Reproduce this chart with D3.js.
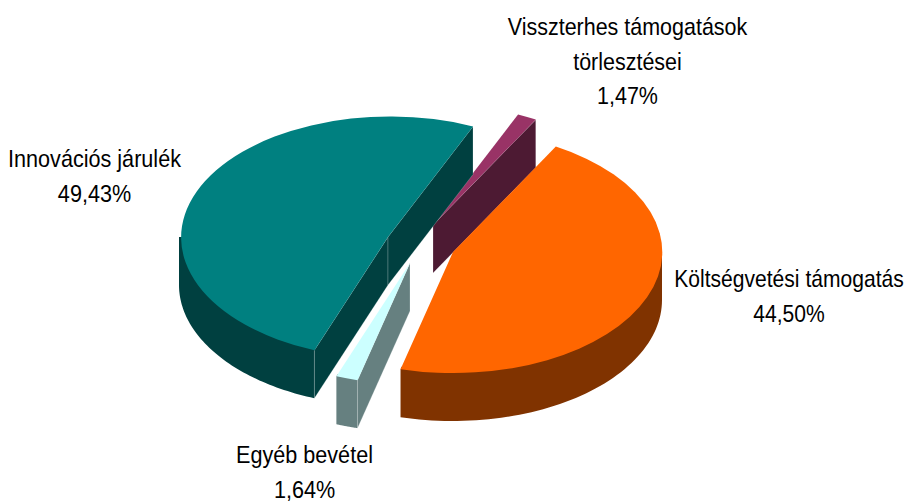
<!DOCTYPE html>
<html><head><meta charset="utf-8">
<script src="https://cdn.jsdelivr.net/npm/d3@7"></script>
<style>html,body{margin:0;padding:0;background:#fff}svg{display:block}
text{font-family:"Liberation Sans",Arial,sans-serif;font-size:24px;fill:#000;text-anchor:middle}</style>
</head><body><svg id="c" width="904" height="503"></svg>
<script>
const categories = ["Visszterhes támogatások törlesztései","Költségvetési támogatás","Egyéb bevétel","Innovációs járulék"];
const values = [1.47,44.50,1.64,49.43];
const valueLabels = ["1,47%","44,50%","1,64%","49,43%"];

const topColors = ["#993366","#FF6600","#CCFFFF","#008080"];
const sideColors = ["#4D1A33","#803300","#668080","#004040"];
const centers = [[433,225],[453,252],[410,263],[388,237]];
const paintOrder = [0,3,2,1];
const labelLines = [["Visszterhes támogatások","törlesztései","1,47%"],["Költségvetési támogatás","44,50%"],["Egyéb bevétel","1,64%"],["Innovációs járulék","49,43%"]];
const labelPos = [[627.5,35],[789,287],[304.5,463.3],[94.5,167]];
const labelSqueeze = [0.895,0.878,0.9,0.9];
const lineGap = 34.5;
const rx = 209, ry = 121, depth = 48;
const rad = d => d*Math.PI/180;

const svg = d3.select("#c");
const slices = d3.pie().value(d=>d).sort(null).startAngle(rad(24)).endAngle(rad(384))(values);
const arc = d3.arc().innerRadius(0).outerRadius(1);
const line = d3.line();

paintOrder.forEach(i=>{
  const s = slices[i], [cx,cy] = centers[i];
  const px = (a,k=1) => cx + k*rx*Math.sin(a), py = (a,k=1) => cy - k*ry*Math.cos(a);
  const g = svg.append("g");
  const radial = a => g.append("path")
      .attr("d",line([[cx,cy],[px(a),py(a)],[px(a),py(a)+depth],[cx,cy+depth]])+"Z")
      .attr("fill",sideColors[i])
      .attr("stroke","#fff").attr("stroke-opacity",0.3).attr("stroke-width",0.7);
  // visible part of the outer wall (front half); its top edge is tucked under the top face
  const lo = Math.max(s.startAngle,Math.PI/2), hi = Math.min(s.endAngle,Math.PI*3/2);
  if (hi>lo){
    const n = 60, as = d3.range(n+1).map(k=>lo+(hi-lo)*k/n);
    g.append("path")
      .attr("d",line([[px(lo),py(lo)],...as.map(a=>[px(a,0.98),py(a,0.98)]),[px(hi),py(hi)],...as.slice().reverse().map(a=>[px(a),py(a)+depth])])+"Z")
      .attr("fill",sideColors[i]);
  }
  if (Math.sin(s.startAngle)<0) radial(s.startAngle);
  if (Math.sin(s.endAngle)>0) radial(s.endAngle);
  g.append("path").attr("d",arc(s))
    .attr("transform",`translate(${cx},${cy}) scale(${rx},${ry})`)
    .attr("fill",topColors[i]);
});

labelLines.forEach((lines,i)=>{
  const [x,y] = labelPos[i];
  lines.forEach((t,k)=>{
    svg.append("text").attr("transform",`translate(${x},${y+k*lineGap}) scale(${labelSqueeze[i]},1)`).text(t);
  });
});
</script></body></html>
